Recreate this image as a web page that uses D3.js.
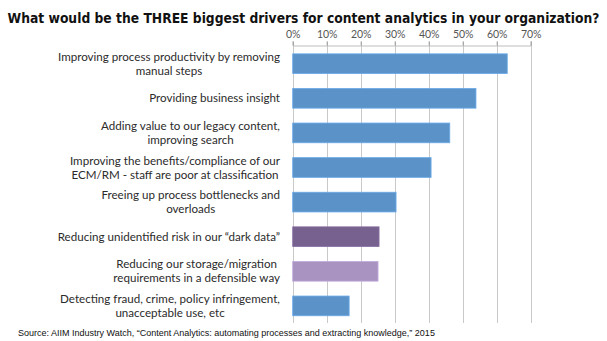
<!DOCTYPE html>
<html>
<head>
<meta charset="utf-8">
<script src="https://cdn.jsdelivr.net/npm/d3@7"></script>
<style>
  body { margin: 0; background: #fff; }
  svg { display: block; }
</style>
</head>
<body>
<script>
'use strict';

// data
const categories = [
  ["Improving process productivity by removing", "manual steps"],
  ["Providing business insight"],
  ["Adding value to our legacy content,", "improving search"],
  ["Improving the benefits/compliance of our", "ECM/RM - staff are poor at classification"],
  ["Freeing up process bottlenecks and", "overloads"],
  ["Reducing unidentified risk in our \u201cdark data\u201d"],
  ["Reducing our storage/migration", "requirements in a defensible way"],
  ["Detecting fraud, crime, policy infringement,", "unacceptable use, etc"]
];
const values = [63.1, 53.9, 46.2, 40.7, 30.4, 25.4, 25.1, 16.6];
const barColors = ["#5b93c9", "#5b93c9", "#5b93c9", "#5b93c9", "#5b93c9", "#77618e", "#a994c1", "#5b93c9"];
const ticks = [0, 10, 20, 30, 40, 50, 60, 70];
const title = "What would be the THREE biggest drivers for content analytics in your organization?";
const source = "Source: AIIM Industry Watch, \u201cContent Analytics: automating processes and extracting knowledge,\u201d 2015";

const width = 607, height = 341;

const svg = d3.select('body').append('svg')
  .attr('width', width)
  .attr('height', height);

const x = d3.scaleLinear().domain([0, 70]).range([292.7, 530.7]);
const y = d3.scaleBand().domain(d3.range(categories.length)).range([46.4, 323.2]).paddingInner(0.43).paddingOuter(0.215);

// fit a text to a given width by scaling its font size
function fitText(sel, targetW) {
  let fs = parseFloat(sel.style('font-size'));
  let w = sel.node().getComputedTextLength();
  if (w > 0) sel.style('font-size', (fs * targetW / w).toFixed(2) + 'px');
}

// title
let titleText = svg.append('text')
  .attr('x', width / 2)
  .attr('y', 22.5)
  .attr('text-anchor', 'middle')
  .style('font-family', '"Liberation Sans Narrow", "DejaVu Sans Condensed", sans-serif')
  .style('font-weight', 'bold')
  .style('font-size', '15.5px')
  .attr('fill', '#111')
  .text(title);
fitText(titleText, 592);

// vertical gridlines
svg.append('g').selectAll('line')
  .data(ticks)
  .join('line')
  .attr('x1', d => Math.round(x(d)) + 0.5)
  .attr('x2', d => Math.round(x(d)) + 0.5)
  .attr('y1', 41.5)
  .attr('y2', 323)
  .attr('stroke', '#c9c9c9')
  .attr('stroke-width', 1);

// top axis
const axis = svg.append('g')
  .attr('transform', 'translate(0, 45.5)')
  .call(d3.axisTop(x).tickValues(ticks).tickSize(4).tickFormat(d => d + '%'));
axis.select('.domain').attr('stroke', '#bdbdbd');
axis.selectAll('.tick line').attr('stroke', '#9a9a9a');
axis.selectAll('.tick text')
  .attr('y', -8)
  .attr('fill', '#555')
  .style('font-family', 'Lato, "Open Sans", sans-serif')
  .style('font-size', '10.5px');

// bars
svg.append('g').selectAll('rect')
  .data(values)
  .join('rect')
  .attr('x', x(0))
  .attr('y', (d, i) => y(i))
  .attr('width', d => x(d) - x(0))
  .attr('height', y.bandwidth())
  .attr('fill', (d, i) => barColors[i])
  .attr('stroke', (d, i) => d3.color(barColors[i]).brighter(0.4))
  .attr('stroke-width', 0.8);

// category labels, lines centred on each other, block right-aligned
const labelGroup = svg.append('g')
  .style('font-family', 'Lato, "Open Sans", sans-serif')
  .style('font-size', '11.6px')
  .attr('fill', '#2b2b2b');

categories.forEach((lines, i) => {
  const cy = y(i) + y.bandwidth() / 2;
  const lineH = 14;
  const texts = lines.map((t, j) => labelGroup.append('text')
    .attr('y', cy + (j - (lines.length - 1) / 2) * lineH + 4)
    .attr('text-anchor', 'middle')
    .text(t));
  const maxW = d3.max(texts, t => t.node().getComputedTextLength());
  texts.forEach(t => t.attr('x', 280 - maxW / 2));
});

// source note
let sourceText = svg.append('text')
  .attr('x', 18)
  .attr('y', 336)
  .style('font-family', '"Liberation Sans", Arial, sans-serif')
  .style('font-size', '8.8px')
  .attr('fill', '#111')
  .text(source);
fitText(sourceText, 417);
</script>
</body>
</html>
